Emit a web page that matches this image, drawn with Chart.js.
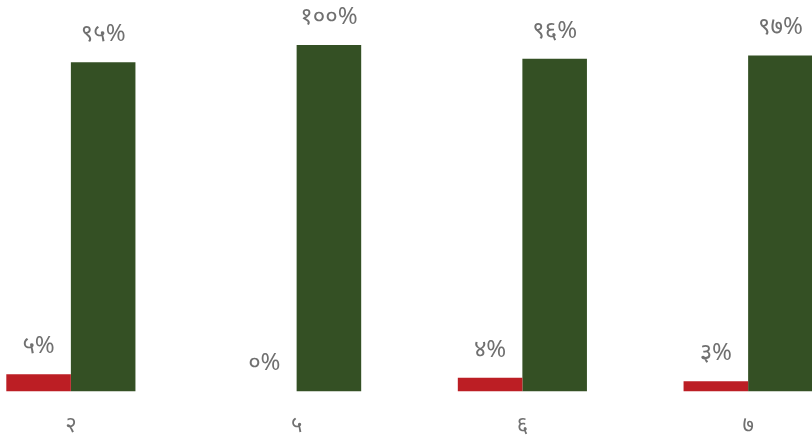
<!DOCTYPE html>
<html>
<head>
<meta charset="utf-8">
<script src="https://cdn.jsdelivr.net/npm/chart.js@4"></script>
<style>
  html, body { margin: 0; padding: 0; width: 812px; height: 441px; overflow: hidden; background: #fff; }
  #wrap { position: absolute; left: -42px; top: 0; width: 903px; height: 441px; }
</style>
</head>
<body>
<div id="wrap"><canvas id="c"></canvas></div>
<script>
const categories = ['२', '५', '६', '७'];
const redValues = [5, 0, 4, 3];
const greenValues = [95, 100, 96, 97];
const redColor = '#BC1E24';
const greenColor = '#345024';

const devDigits = ['०','१','२','३','४','५','६','७','८','९'];
function toDev(n) { return String(n).replace(/[0-9]/g, d => devDigits[+d]); }

const labelPlugin = {
  id: 'barLabels',
  afterDatasetsDraw(chart) {
    const ctx = chart.ctx;
    ctx.save();
    ctx.fillStyle = '#707070';
    ctx.font = '24px "Noto Sans", sans-serif';
    ctx.textAlign = 'center';
    ctx.textBaseline = 'middle';
    chart.data.datasets.forEach((ds, i) => {
      chart.getDatasetMeta(i).data.forEach((bar, j) => {
        ctx.fillText(toDev(ds.data[j]) + '%', bar.x, bar.y - 28);
      });
    });
    ctx.restore();
  }
};

new Chart(document.getElementById('c'), {
  type: 'bar',
  data: {
    labels: categories,
    datasets: [
      { data: redValues, backgroundColor: redColor, barPercentage: 1.0, categoryPercentage: 0.572 },
      { data: greenValues, backgroundColor: greenColor, barPercentage: 1.0, categoryPercentage: 0.572 }
    ]
  },
  options: {
    responsive: true,
    maintainAspectRatio: false,
    animation: false,
    layout: { padding: { top: 45, left: 0, right: 0, bottom: -11 } },
    plugins: { legend: { display: false }, tooltip: { enabled: false } },
    scales: {
      x: {
        grid: { display: false },
        border: { display: false },
        ticks: { color: '#707070', font: { size: 22, family: '"Noto Sans", sans-serif' }, padding: 13 }
      },
      y: {
        display: false,
        min: 0,
        max: 100
      }
    }
  },
  plugins: [labelPlugin]
});
</script>
</body>
</html>
